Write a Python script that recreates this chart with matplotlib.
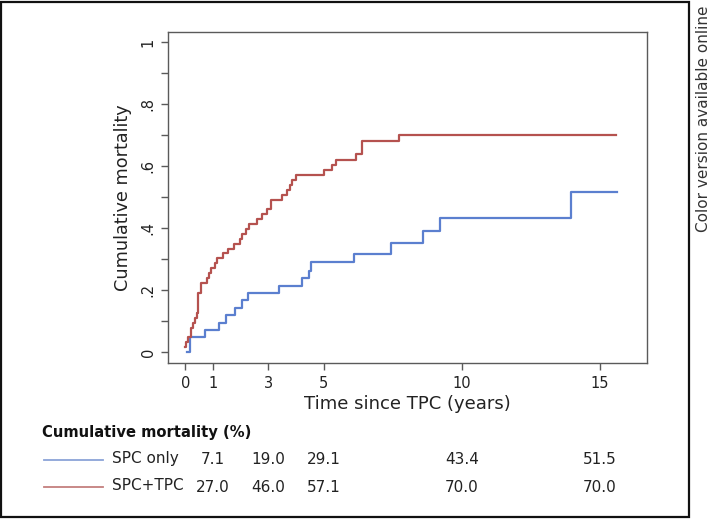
import matplotlib
matplotlib.use("Agg")
import matplotlib.pyplot as plt
import matplotlib.transforms as mtransforms
from matplotlib.patches import Rectangle

# step curves (years, cumulative mortality)
spc_t = [0.05, 0.16, 0.71, 1.22, 1.47, 1.80, 2.05, 2.27, 3.39, 4.20, 4.48, 4.53,
         6.10, 7.44, 8.60, 9.21, 13.95, 15.60]
spc_y = [0.000, 0.048, 0.071, 0.095, 0.119, 0.143, 0.167, 0.190, 0.214, 0.238, 0.262, 0.291,
         0.316, 0.352, 0.392, 0.434, 0.515, 0.515]

tpc_t = [0.00, 0.03, 0.08, 0.20, 0.27, 0.34, 0.40, 0.46, 0.56, 0.77, 0.86, 0.92, 1.06,
         1.13, 1.35, 1.55, 1.76, 1.97, 2.05, 2.20, 2.30, 2.60, 2.77, 2.95, 3.10, 3.50,
         3.67, 3.78, 3.86, 4.00, 5.02, 5.30, 5.45, 6.17, 6.39, 7.73, 15.58]
tpc_y = [0.016, 0.032, 0.048, 0.079, 0.095, 0.111, 0.127, 0.190, 0.222, 0.238, 0.254, 0.270, 0.286,
         0.302, 0.318, 0.333, 0.349, 0.365, 0.381, 0.397, 0.413, 0.429, 0.444, 0.460, 0.492, 0.508,
         0.524, 0.540, 0.556, 0.571, 0.587, 0.603, 0.619, 0.639, 0.680, 0.700, 0.700]

table_years = [1, 3, 5, 10, 15]
spc_pct = ["7.1", "19.0", "29.1", "43.4", "51.5"]
tpc_pct = ["27.0", "46.0", "57.1", "70.0", "70.0"]

blue = "#5b7fcf"
red = "#b5524f"
axcol = "#5a5a5a"

plt.rcParams["font.family"] = "DejaVu Sans"
fig = plt.figure(figsize=(7.09, 5.2), dpi=100)
ax = fig.add_axes([168 / 709, 157 / 520, 479 / 709, 331 / 520])

ax.step(spc_t, spc_y, where="post", color=blue, lw=1.6)
ax.step(tpc_t, tpc_y, where="post", color=red, lw=1.6)

ax.set_xlim(-0.633, 16.70)
ax.set_ylim(-0.035, 1.032)
ax.set_xticks([0, 1, 3, 5, 10, 15])
ax.set_yticks([0, 0.2, 0.4, 0.6, 0.8, 1])
ax.set_yticklabels(["0", ".2", ".4", ".6", ".8", "1"], rotation=90, va="center")
ax.set_yticks([0.1, 0.3, 0.5, 0.7, 0.9], minor=True)
ax.tick_params(axis="both", which="major", length=5, width=1, color=axcol,
               labelsize=10.5, labelcolor="#222222", pad=4)
ax.tick_params(axis="y", which="minor", length=5, width=1, color=axcol)
for s in ax.spines.values():
    s.set_color(axcol)
    s.set_linewidth(1)

ax.set_xlabel("Time since TPC (years)", fontsize=13, color="#222222", labelpad=3)
ax.set_ylabel("Cumulative mortality", fontsize=12.7, color="#222222", labelpad=6)

# risk table under the plot
fig.text(42 / 709, 1 - 432 / 520, "Cumulative mortality (%)", fontsize=10.6,
         fontweight="bold", va="center", ha="left", color="#111111")
rows = [("SPC only", spc_pct, "#8ba4d8", 460), ("SPC+TPC", tpc_pct, "#c47f7e", 487)]
tr = mtransforms.blended_transform_factory(ax.transData, fig.transFigure)
for name, vals, col, ypx in rows:
    yf = 1 - ypx / 520
    fig.add_artist(plt.Line2D([44 / 709, 103 / 709], [yf, yf], color=col, lw=1.3,
                              transform=fig.transFigure))
    fig.text(112 / 709, yf + 0.003, name, fontsize=11, va="center", ha="left", color="#222222")
    for yr, v in zip(table_years, vals):
        fig.text(yr, yf, v, transform=tr, fontsize=11, va="center", ha="center", color="#222222")

# outer frame and side note
fig.add_artist(Rectangle((1 / 709, 3 / 520), 688 / 709, 515 / 520, fill=False,
                         edgecolor="#111111", lw=1.6, transform=fig.transFigure))
fig.text(703 / 709, 1 - 119 / 520, "Color version available online", rotation=90,
         fontsize=11, va="center", ha="center", color="#333333")

fig.savefig("out.png", dpi=100)
